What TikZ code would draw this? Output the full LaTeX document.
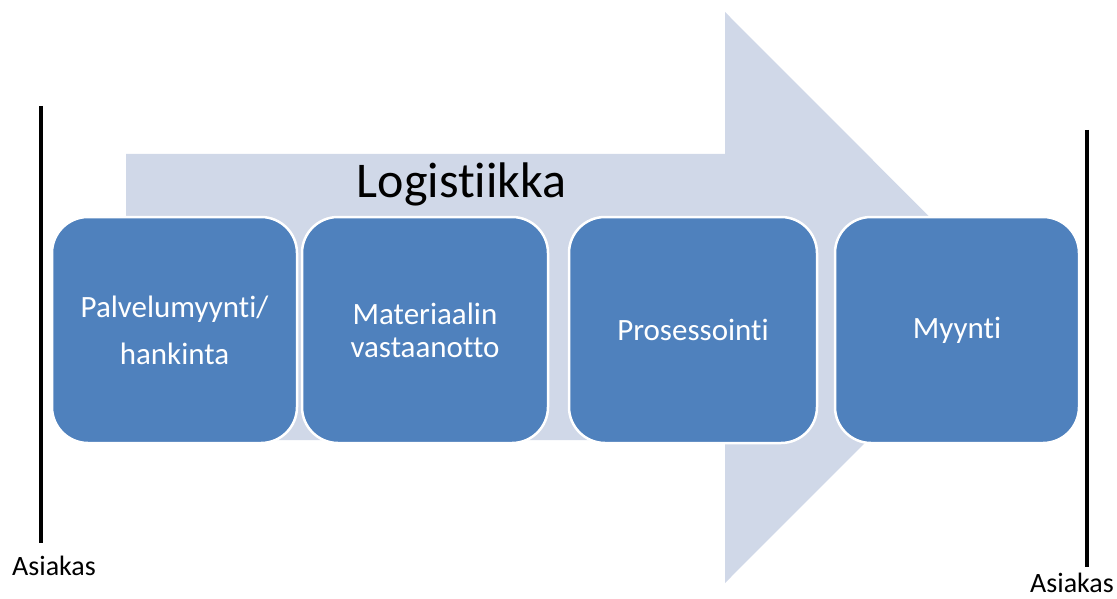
\documentclass[tikz,border=0pt]{standalone}
\usepackage{fontspec}
\setmainfont[Ligatures=NoCommon]{Carlito}
\definecolor{boxblue}{HTML}{4F81BD}
\definecolor{arrowlight}{HTML}{D0D8E8}
\begin{document}
\begin{tikzpicture}[x=1pt,y=-1pt,
  stepbox/.style={draw=white, line width=2.5pt, fill=boxblue, rounded corners=36pt,
    minimum height=226pt, inner sep=0pt, text=white, align=center,
    font=\fontsize{31}{33}\selectfont},
  barline/.style={line width=4pt, black},
  custlabel/.style={anchor=base west, inner sep=0pt, font=\fontsize{28}{32}\selectfont}]
\useasboundingbox (0,0) rectangle (1117,599);
% big arrow
\fill[arrowlight] (126,154) -- (725,154) -- (725,12) -- (1010,297.5) -- (725,583) -- (725,440) -- (126,440) -- cycle;
\node[anchor=base, inner sep=0pt, font=\fontsize{50}{56}\selectfont] (logi) at (461.5,197) {Logistiikka};
% boxes
\node[stepbox, minimum width=245pt] (b1) at (174.5,330) {Palvelumyynti/\\[14pt]hankinta};
\node[stepbox, minimum width=246pt] (b2) at (425,330) {Materiaalin\\vastaanotto};
\node[stepbox, minimum width=248pt] (b3) at (693,330) {Prosessointi};
\node[stepbox, minimum width=244pt] (b4) at (957,330) {Myynti};
% customer bars
\coordinate (l1) at (41,106);
\coordinate (l2) at (41,543);
\coordinate (r1) at (1087,130);
\coordinate (r2) at (1087,567);
\draw[barline] (l1) -- (l2);
\draw[barline] (r1) -- (r2);
\node[custlabel] (asl) at (12,575) {Asiakas};
\node[custlabel] (asr) at (1030,592) {Asiakas};
\end{tikzpicture}
\end{document}
